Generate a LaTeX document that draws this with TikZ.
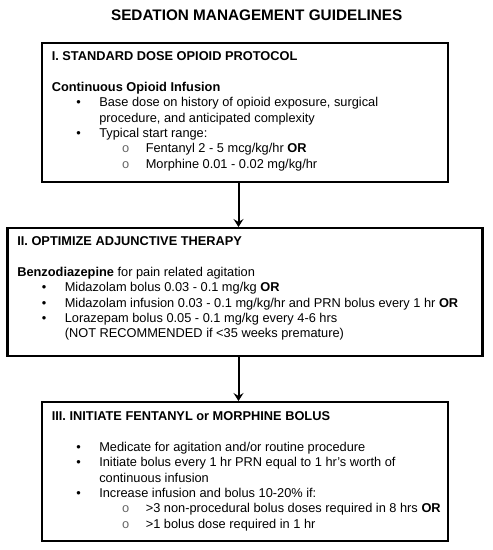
\documentclass[tikz,border=0pt]{standalone}
\usepackage{fontspec}
\setmainfont{Liberation Sans}
\setmonofont{Liberation Mono}
\usepackage{tikz}
\usetikzlibrary{arrows.meta, positioning}

\newcommand{\itm}[1]{\hspace*{24.5pt}\makebox[23pt][l]{\textbullet}#1}
\newcommand{\cont}[1]{\hspace*{47.5pt}#1}
\newcommand{\subitm}[1]{\hspace*{70.2pt}\makebox[23.8pt][l]{\color{black!60}\ttfamily o}#1}

\begin{document}
\begin{tikzpicture}[
  x=1pt, y=-1pt,
  node distance=43.6pt,
  box/.style={rectangle, draw, line width=2.4pt, outer sep=1.2pt},
  body/.style={inner sep=0pt, outer sep=0pt, align=left,
               font=\fontsize{12.8pt}{15.3pt}\selectfont},
  arrow/.style={-{Stealth[length=8pt, width=10pt, inset=3pt]}, line width=2pt}
]
\useasboundingbox (0,0) rectangle (493,550);

% Title
\node[inner sep=0pt, font=\fontsize{15.3pt}{18pt}\selectfont\bfseries] (title) at (256.7,15)
  {SEDATION MANAGEMENT GUIDELINES};

% Boxes
\node[box, minimum width=406pt, minimum height=139pt, anchor=north] (b1) at (245,42) {};
\node[box, minimum width=475pt, minimum height=128pt, below=of b1] (b2) {};
\node[box, minimum width=406pt, minimum height=139pt, below=of b2] (b3) {};

% Box contents
\node[body, below right=10pt and 11pt of b1.north west] (t1) {%
\textbf{I. STANDARD DOSE OPIOID PROTOCOL}\\[15.3pt]
\textbf{Continuous Opioid Infusion}\\
\itm{Base dose on history of opioid exposure, surgical}\\
\cont{procedure, and anticipated complexity}\\
\itm{Typical start range:}\\
\subitm{Fentanyl 2 - 5 mcg/kg/hr \textbf{OR}}\\
\subitm{Morphine 0.01 - 0.02 mg/kg/hr}};

\node[body, below right=10pt and 11pt of b2.north west] (t2) {%
\textbf{II. OPTIMIZE ADJUNCTIVE THERAPY}\\[15.3pt]
\textbf{Benzodiazepine} for pain related agitation\\
\itm{Midazolam bolus 0.03 - 0.1 mg/kg \textbf{OR}}\\
\itm{Midazolam infusion 0.03 - 0.1 mg/kg/hr and PRN bolus every 1 hr \textbf{OR}}\\
\itm{Lorazepam bolus 0.05 - 0.1 mg/kg every 4-6 hrs}\\
\cont{(NOT RECOMMENDED if <35 weeks premature)}};

\node[body, below right=11pt and 11pt of b3.north west] (t3) {%
\textbf{III. INITIATE FENTANYL or MORPHINE BOLUS}\\[15.3pt]
\itm{Medicate for agitation and/or routine procedure}\\
\itm{Initiate bolus every 1 hr PRN equal to 1 hr's worth of}\\
\cont{continuous infusion}\\
\itm{Increase infusion and bolus 10-20\% if:}\\
\subitm{>3 non-procedural bolus doses required in 8 hrs \textbf{OR}}\\
\subitm{>1 bolus dose required in 1 hr}};

% Arrows
\draw[arrow] ([xshift=-6.5pt]b1.south) -- ([xshift=-6.5pt]b2.north);
\draw[arrow] ([xshift=-6.5pt]b2.south) -- ([xshift=-6.5pt]b3.north);

\end{tikzpicture}
\end{document}
